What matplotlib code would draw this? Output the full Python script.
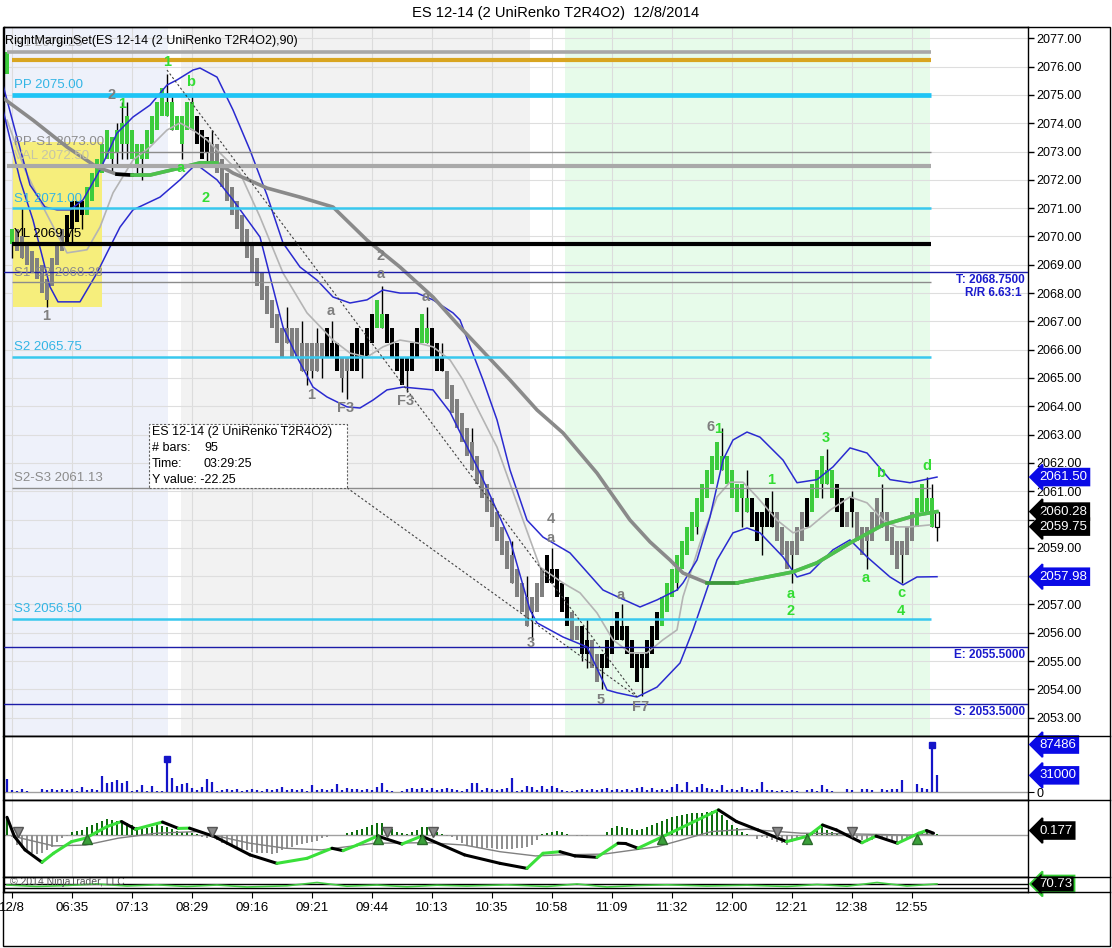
"""ES 12-14 (2 UniRenko T2R4O2), 12/8/2014 - NinjaTrader style chart."""
import matplotlib
matplotlib.use("Agg")
import matplotlib.pyplot as plt
from matplotlib.patches import Rectangle
from matplotlib.lines import Line2D

plt.rcParams.update({"font.family": ["Liberation Sans", "DejaVu Sans"]})

W, H = 1112, 948
GREEN, GRAYBAR, NAVY, BLUE, CYAN = "#3ccc3c", "#808080", "#1c1ca8", "#0a0ae6", "#25c3f0"
LBL_G, LBL_S = "#33dd33", "#7f7f7f"

# ---------------- price bars (one entry per UniRenko bar) ----------------
body_lo = [
    2075.75, 2069.75, 2069.5, 2069.25, 2069.0, 2068.75, 2068.5, 2068.0, 2067.75, 2068.25,
    2069.0, 2069.5, 2069.75, 2070.25, 2070.5, 2070.75, 2070.75, 2071.25, 2071.75, 2072.25,
    2072.75, 2072.75, 2073.0, 2073.25, 2073.25, 2072.75, 2072.5, 2072.75, 2072.75, 2073.25,
    2073.75, 2074.25, 2074.25, 2073.75, 2073.75, 2073.25, 2073.75, 2073.75, 2073.25, 2072.75,
    2073.0, 2072.5, 2072.25, 2071.75, 2071.25, 2070.75, 2070.25, 2069.75, 2069.25, 2068.75,
    2068.25, 2067.75, 2067.25, 2066.75, 2066.25, 2065.75, 2066.25, 2065.75, 2065.75, 2065.25,
    2065.25, 2065.25, 2065.25, 2065.75, 2065.75, 2065.75, 2065.25, 2065.0, 2065.25, 2065.25,
    2065.25, 2065.75, 2065.75, 2066.25, 2066.75, 2066.75, 2066.25, 2065.75, 2065.25, 2064.75,
    2065.25, 2065.25, 2065.75, 2066.25, 2066.25, 2065.75, 2065.25, 2065.25, 2064.25, 2063.75,
    2063.25, 2062.75, 2062.25, 2061.75, 2061.25, 2060.75, 2060.25, 2059.75, 2059.25, 2058.75,
    2058.25, 2057.75, 2057.25, 2056.75, 2056.25, 2056.75, 2056.75, 2057.25, 2057.75, 2057.75,
    2057.25, 2056.75, 2056.25, 2055.75, 2055.75, 2055.25, 2055.25, 2054.75, 2054.25, 2054.75,
    2054.75, 2055.25, 2055.75, 2055.75, 2055.25, 2054.75, 2054.25, 2054.75, 2054.75, 2055.25,
    2055.75, 2056.25, 2056.75, 2057.25, 2057.75, 2058.25, 2058.75, 2059.25, 2059.75, 2060.25,
    2060.75, 2061.25, 2061.75, 2061.75, 2061.25, 2060.75, 2060.25, 2060.75, 2060.25, 2059.75,
    2059.25, 2059.75, 2059.75, 2059.75, 2059.25, 2058.75, 2058.25, 2058.75, 2058.75, 2059.25,
    2059.75, 2060.25, 2060.75, 2061.25, 2061.25, 2060.75, 2060.25, 2059.75, 2059.75, 2060.25,
    2059.25, 2058.75, 2059.25, 2059.25, 2059.75, 2059.75, 2059.25, 2058.75, 2058.25, 2058.75,
    2058.75, 2059.25, 2059.75, 2060.25, 2060.25, 2059.75, 2059.75,
]
body_hi = [
    2076.5, 2070.25, 2070.25, 2070.0, 2069.75, 2069.5, 2069.25, 2069.0, 2068.5, 2069.25,
    2069.75, 2070.25, 2070.75, 2071.25, 2071.25, 2071.25, 2071.75, 2072.25, 2072.75, 2073.25,
    2073.75, 2073.5, 2073.75, 2074.0, 2074.25, 2073.75, 2073.25, 2073.25, 2073.75, 2074.25,
    2074.75, 2075.25, 2074.75, 2074.75, 2074.25, 2074.25, 2074.75, 2074.75, 2074.25, 2073.75,
    2073.5, 2073.25, 2073.25, 2072.75, 2072.25, 2071.75, 2071.25, 2070.75, 2070.25, 2069.75,
    2069.25, 2068.75, 2068.25, 2067.75, 2067.25, 2066.75, 2066.75, 2066.75, 2066.75, 2066.25,
    2066.25, 2066.25, 2066.25, 2066.25, 2066.75, 2066.25, 2066.25, 2065.75, 2065.75, 2066.25,
    2066.75, 2066.25, 2066.75, 2067.25, 2067.75, 2067.25, 2067.25, 2066.75, 2066.25, 2065.75,
    2065.75, 2066.25, 2066.75, 2067.25, 2066.75, 2066.75, 2066.25, 2065.75, 2065.25, 2064.75,
    2064.25, 2063.75, 2063.25, 2062.75, 2062.25, 2061.75, 2061.25, 2060.75, 2060.25, 2059.75,
    2059.25, 2058.75, 2058.25, 2057.75, 2057.25, 2057.25, 2057.75, 2058.25, 2058.75, 2058.25,
    2058.25, 2057.75, 2057.25, 2056.75, 2056.25, 2056.25, 2055.75, 2055.75, 2055.25, 2055.25,
    2055.75, 2056.25, 2056.75, 2056.25, 2056.25, 2055.75, 2055.25, 2055.25, 2055.75, 2056.25,
    2056.75, 2057.25, 2057.75, 2058.25, 2058.75, 2059.25, 2059.75, 2060.25, 2060.75, 2061.25,
    2061.75, 2062.25, 2062.75, 2062.25, 2062.25, 2061.75, 2061.25, 2061.25, 2060.75, 2060.75,
    2060.25, 2060.25, 2060.75, 2060.25, 2060.25, 2059.75, 2059.25, 2059.25, 2059.75, 2060.25,
    2060.75, 2061.25, 2061.75, 2062.25, 2061.75, 2061.75, 2061.25, 2060.75, 2060.25, 2060.75,
    2060.25, 2059.75, 2059.75, 2060.25, 2060.75, 2060.25, 2060.25, 2059.75, 2059.25, 2059.25,
    2059.75, 2060.25, 2060.75, 2061.25, 2060.75, 2060.75, 2060.25,
]
# g = green, s = gray, k = black, w = hollow (last, still forming)
bar_col = ("gg" "ssssssssss" "kkkk" "gggggggggggggggggggggg" "kkk"
           "sssssssssssssssssssssss" "kkk" "ss" "kkkkk" "gg" "kkkkkkk" "gg" "kkk"
           "ssssssssssssssssssss" "kkkkk" "ss" "kk" "ss" "kkkkkkkkkkkk"
           "gggggggggggggggggg" "kkkkk" "ssssss" "k" "ggggg" "kk" "s" "k"
           "ssssssssssss" "gggg" "w")
# bars whose wicks stick out of the body
wick_i = [1, 3, 8, 13, 15, 21, 22, 23, 24, 26, 27, 32, 33, 35, 37, 40, 41, 56, 59, 60,
          61, 62, 63, 65, 67, 68, 71, 75, 80, 84, 87, 93, 101, 104, 105, 109, 115, 116,
          119, 123, 127, 134, 138, 143, 147, 148, 151, 153, 157, 163, 164, 169, 172,
          175, 179, 184, 185, 186]
wick_hi = [2070.25, 2071.0, 2068.5, 2071.25, 2071.25, 2073.5, 2074.0, 2074.75, 2074.75,
           2073.25, 2073.25, 2075.75, 2075.0, 2074.25, 2075.0, 2073.5, 2073.75, 2067.5,
           2067.0, 2066.25, 2066.25, 2066.75, 2066.25, 2067.0, 2065.75, 2065.75, 2066.25,
           2068.25, 2065.75, 2067.5, 2066.25, 2063.25, 2059.25, 2058.0, 2057.25, 2059.0,
           2056.25, 2056.5, 2055.25, 2057.0, 2055.25, 2058.75, 2060.75, 2063.25, 2061.25,
           2061.75, 2060.25, 2061.0, 2059.25, 2062.25, 2062.5, 2061.0, 2059.75, 2061.25,
           2059.25, 2061.5, 2061.25, 2060.25]
wick_lo = [2069.25, 2069.25, 2067.5, 2069.75, 2070.25, 2072.25, 2072.5, 2072.75, 2072.75,
           2072.25, 2072.0, 2074.25, 2073.75, 2072.75, 2073.75, 2072.5, 2072.5, 2066.25,
           2065.25, 2064.75, 2065.0, 2065.25, 2065.0, 2065.75, 2064.5, 2064.25, 2065.0,
           2066.75, 2064.5, 2066.25, 2065.25, 2061.75, 2057.75, 2056.25, 2055.75, 2057.75,
           2055.0, 2054.75, 2054.0, 2055.75, 2053.75, 2057.5, 2059.5, 2061.75, 2059.75,
           2060.25, 2058.75, 2059.75, 2057.75, 2060.75, 2061.25, 2059.75, 2058.25, 2059.75,
           2057.75, 2060.25, 2059.75, 2059.25]

# ---------------- indicator lines (bar index, value) ----------------
sma_i = [-0.8, 5.2, 12, 18, 22, 25, 28.6, 34.6, 38.6, 42, 45.2, 52, 58.6, 65.2, 72, 78.6,
         85.2, 90.6, 100.6, 106, 111.2, 118, 124.6, 128.6, 132.6, 135.2, 140, 146, 152,
         157.2, 162, 168.6, 175.2, 182, 186]
sma_v = [2074.89, 2074.11, 2073.16, 2072.45, 2072.2, 2072.17, 2072.17, 2072.42, 2072.6,
         2072.6, 2072.24, 2071.71, 2071.39, 2071.04, 2069.87, 2068.92, 2067.86, 2066.8,
         2064.93, 2063.87, 2063.06, 2061.64, 2059.98, 2059.21, 2058.57, 2058.11, 2057.76,
         2057.76, 2057.97, 2058.15, 2058.47, 2059.17, 2059.81, 2060.16, 2060.28]
up_i = [-0.8, 1.6, 4.6, 7.6, 10, 12.6, 15.2, 18.6, 22, 25.2, 28.6, 32, 34, 37.2, 38.6, 42,
        45.2, 48.6, 52, 55.2, 58.6, 62, 65.2, 68.6, 72, 75.2, 78.6, 82, 85.2, 89.2, 90.6,
        95.2, 98, 100.6, 104, 107.2, 112.6, 119.2, 122.6, 126.6, 130, 134, 135.2, 138,
        140.6, 143.2, 145.2, 148, 150.6, 155.2, 158, 162, 165.2, 168.6, 172, 176.6, 180.6, 186]
up_v = [2075.35, 2073.76, 2071.82, 2071.04, 2070.94, 2070.94, 2071.29, 2072.35, 2073.65,
        2074.22, 2074.64, 2075.35, 2075.53, 2075.88, 2075.95, 2075.63, 2074.47, 2073.05,
        2071.46, 2069.77, 2068.92, 2068.46, 2067.86, 2067.65, 2067.76, 2068.11, 2068.0,
        2068.0, 2067.76, 2067.3, 2067.05, 2064.93, 2063.52, 2061.75, 2059.98, 2059.38,
        2058.82, 2057.51, 2057.23, 2056.91, 2057.16, 2057.51, 2057.76, 2058.57, 2060.09,
        2062.1, 2062.81, 2063.09, 2062.91, 2062.1, 2061.3, 2061.41, 2061.86, 2062.53,
        2062.35, 2061.41, 2061.3, 2061.5]
lo_i = [-0.8, 2.6, 5.2, 8.6, 10.2, 14.6, 18, 20, 22.6, 25.2, 30.6, 34.6, 37.2, 38.6, 42,
        45.2, 50.6, 55.2, 58, 61.2, 64, 68, 70.6, 73.2, 76, 79.2, 85.2, 88.6, 94.6, 100.6,
        104.6, 106, 111.2, 116, 120, 122, 126, 130, 134.6, 137.2, 142, 145.2, 148, 150.6,
        155.2, 158, 160.6, 165.2, 168.6, 172, 176.6, 179.2, 182, 186]
lo_v = [2074.47, 2072.0, 2070.58, 2068.22, 2067.69, 2067.69, 2068.71, 2069.42, 2070.33,
        2070.94, 2071.39, 2072.0, 2072.45, 2072.45, 2072.0, 2071.29, 2069.98, 2066.8,
        2065.74, 2064.68, 2064.33, 2063.98, 2063.94, 2064.22, 2064.58, 2064.68, 2064.58,
        2063.8, 2061.65, 2059.28, 2056.81, 2056.35, 2055.85, 2055.5, 2053.98, 2053.88,
        2053.73, 2054.08, 2054.93, 2056.1, 2058.57, 2059.53, 2059.7, 2059.53, 2058.68,
        2057.97, 2058.11, 2058.93, 2059.28, 2058.68, 2057.97, 2057.69, 2057.97, 2057.98]
fast_i = [0, 3.6, 7.2, 12, 16, 18.6, 21.2, 25.2, 28.6, 32, 34.6, 37.2, 40, 42.6, 46.6, 50.6,
          55.2, 60, 65.2, 68.6, 72, 75.2, 78.6, 82, 85.2, 88.6, 91.2, 98, 103.2, 106.6,
          111.2, 114.6, 118, 121.2, 124.6, 128, 131.2, 134, 135.2, 138.6, 142, 144.6, 147.2,
          150, 154, 157.2, 160.6, 164.6, 168.6, 172, 175.2, 178, 180.6, 184.6]
fast_v = [2074.11, 2072.35, 2071.04, 2069.42, 2069.53, 2070.33, 2071.54, 2072.7, 2073.16,
          2073.76, 2074.01, 2073.76, 2073.41, 2072.95, 2072.24, 2070.69, 2068.71, 2067.3,
          2066.34, 2065.88, 2065.74, 2066.1, 2066.34, 2066.24, 2066.1, 2065.64, 2064.93,
          2062.56, 2059.98, 2058.32, 2057.76, 2057.41, 2056.7, 2055.75, 2055.29, 2055.29,
          2055.75, 2056.1, 2057.27, 2059.17, 2060.8, 2061.32, 2061.32, 2060.8, 2059.98,
          2059.53, 2059.74, 2060.33, 2060.8, 2060.59, 2059.98, 2059.74, 2059.74, 2059.81]
# dotted trend lines: (start bar, start price, end bar, end price)
trend_a = (32, 2075.88, 126, 2053.74)
trend_b = (68, 2061.12, 126, 2053.74)

# ---------------- pivot / level lines ----------------
lvl_price = [2076.5, 2076.25, 2075.0, 2073.0, 2072.5, 2071.0, 2069.75, 2068.375,
             2065.75, 2061.125, 2056.5]
lvl_text = ["R1 2076.25", None, "PP 2075.00", "PP-S1 2073.00", "VAL 2072.50",
            "S1 2071.00", "YL 2069.75", "S1-S2 2068.38", "S2 2065.75", "S2-S3 2061.13",
            "S3 2056.50"]
trade_price = [2068.75, 2055.5, 2053.5]
trade_text = ["T: 2068.7500", "E: 2055.5000", "S: 2053.5000"]

# ---------------- swing labels ----------------
gray_lbl = ["1", "2", "2", "a", "a", "a", "1", "F3", "F3", "4", "a", "3", "5", "F7", "a", "6"]
gray_i = [7.8, 21, 74.8, 74.8, 64.8, 83.8, 60.8, 67.8, 79.8, 108.8, 108.8, 104.8, 118.8,
          126.8, 122.8, 140.8]
gray_p = [2067.19, 2075.0, 2069.31, 2068.67, 2067.37, 2067.87, 2064.4, 2063.94, 2064.19,
          2060.02, 2059.35, 2055.64, 2053.63, 2053.38, 2057.33, 2063.28]
green_lbl = ["1", "b", "1", "a", "2", "1", "1", "3", "b", "d", "a", "2", "a", "c", "4"]
green_i = [32, 36.8, 23, 34.8, 39.8, 142.2, 152.8, 163.8, 174.8, 184, 156.8, 156.8,
           171.8, 178.8, 178.8]
green_p = [2076.16, 2075.46, 2074.68, 2072.42, 2071.36, 2063.2, 2061.4, 2062.88, 2061.65,
           2061.89, 2057.37, 2056.77, 2057.94, 2057.4, 2056.77]

# ---------------- volume ----------------
volume = [
    24000, 4300, 3100, 5500, 3100, 0, 0, 5500, 4300, 5500,
    4300, 5500, 4300, 5500, 3100, 9200, 4300, 5500, 4300, 30200,
    16600, 19100, 21600, 16600, 20900, 3100, 4300, 13600, 3100, 11700,
    3100, 3100, 61600, 25900, 11700, 15400, 16600, 7400, 4300, 10500,
    24600, 18500, 3100, 4300, 5500, 4300, 5500, 3100, 4300, 5500,
    4300, 3100, 5500, 4300, 5500, 9200, 4300, 5500, 4300, 5500,
    3100, 13600, 4300, 5500, 4300, 5500, 14800, 4300, 7400, 5500,
    5500, 4300, 5500, 4300, 9200, 16600, 4300, 1800, 0, 3100,
    5500, 7400, 5500, 7400, 4300, 7400, 4300, 5500, 7400, 5500,
    4300, 3100, 5500, 16600, 16600, 4300, 7400, 5500, 4300, 5500,
    7400, 25900, 3100, 4300, 11700, 10500, 4300, 11700, 5500, 11700,
    7400, 4300, 3100, 3100, 4300, 5500, 4300, 5500, 4300, 5500,
    7400, 4300, 5500, 4300, 5500, 4300, 7400, 9200, 4300, 7400,
    4300, 6800, 4300, 9200, 15400, 4300, 17900, 4300, 9200, 15400,
    7400, 5500, 4300, 13600, 4300, 6800, 4300, 10500, 6800, 4300,
    5500, 19700, 4300, 4300, 3100, 4300, 3100, 4300, 3100, 0,
    4300, 5500, 3100, 13600, 5500, 3100, 0, 0, 6800, 4300,
    0, 6800, 5500, 4300, 0, 5500, 4300, 5500, 6800, 22800,
    0, 0, 15400, 7400, 6200, 87486, 31000,
]
vol_dot_i = [32, 185]

# ---------------- MACD-style oscillator ----------------
hist = [
    0.68, -0.05, -0.37, -0.49, -0.62, -0.68, -0.71, -0.68, -0.55, -0.43,
    -0.24, -0.11, -0.03, 0.14, 0.16, 0.20, 0.33, 0.39, 0.48, 0.55,
    0.60, 0.58, 0.55, 0.55, 0.48, 0.39, 0.33, 0.26, 0.26, 0.33,
    0.39, 0.35, 0.33, 0.23, 0.18, 0.14, 0.14, 0.08, 0.05, -0.08,
    -0.11, -0.05, -0.18, -0.28, -0.37, -0.43, -0.49, -0.53, -0.55, -0.62,
    -0.68, -0.68, -0.68, -0.71, -0.68, -0.55, -0.49, -0.43, -0.37, -0.33,
    -0.30, -0.24, -0.20, -0.11, -0.05, 0.03, 0.02, 0.0, 0.08, 0.14,
    0.20, 0.23, 0.30, 0.39, 0.48, 0.48, 0.33, 0.23, 0.14, 0.08,
    0.05, 0.14, 0.20, 0.33, 0.30, 0.20, 0.14, 0.05, -0.03, -0.08,
    -0.18, -0.28, -0.37, -0.43, -0.45, -0.49, -0.49, -0.49, -0.50, -0.50,
    -0.50, -0.50, -0.49, -0.49, -0.43, -0.37, -0.18, 0.05, 0.10, 0.14,
    0.16, 0.14, 0.05, 0.02, -0.02, -0.03, -0.02, 0.0, 0.0, 0.02,
    0.14, 0.26, 0.35, 0.33, 0.26, 0.23, 0.20, 0.25, 0.30, 0.39,
    0.45, 0.55, 0.60, 0.68, 0.73, 0.77, 0.81, 0.83, 0.86, 0.86,
    0.88, 0.92, 0.92, 0.77, 0.58, 0.39, 0.26, 0.14, 0.05, 0.0,
    -0.15, -0.05, -0.11, -0.18, -0.24, -0.30, -0.37, -0.24, -0.11, 0.01,
    0.08, 0.14, 0.20, 0.30, 0.20, 0.14, 0.08, 0.01, -0.08, -0.05,
    -0.11, -0.18, -0.24, -0.18, -0.11, -0.11, -0.11, -0.18, -0.24, -0.18,
    -0.15, -0.08, 0.0, 0.08, 0.14, 0.08, 0.05,
]
macd_i = [0, 1.5, 3.6, 7, 9.3, 12.9, 15.7, 20, 22.9, 25.7, 31.1, 34.3, 36.5, 41.5, 48.6, 54,
          60, 65, 67.2, 70, 74.1, 79, 82.9, 91.5, 98.6, 104, 107.2, 110.6, 113.6, 118, 122.2,
          123.7, 126.2, 130.8, 142.3, 145.9, 150.2, 155.9, 160.2, 163.1, 165.9, 171, 173.8,
          178.1, 182.4, 183.9, 185.3]
macd_v = [0.68, -0.05, -0.55, -1.02, -0.68, -0.24, -0.11, 0.33, 0.52, 0.23, 0.50, 0.26, 0.27,
          -0.05, -0.74, -1.06, -0.87, -0.49, -0.58, -0.37, -0.03, -0.33, -0.03, -0.74, -1.06,
          -1.25, -0.68, -0.62, -0.78, -0.83, -0.30, -0.31, -0.49, -0.08, 0.96, 0.52, 0.20,
          -0.24, -0.03, 0.39, 0.20, -0.28, -0.03, -0.30, 0.08, 0.18, 0.08]
sig_i = [1.5, 9.3, 15.7, 22.2, 30, 37.9, 48.6, 55.7, 62.9, 73.6, 84.3, 91.5, 98.6, 105.7,
         110.6, 119.4, 130.1, 140.9, 148, 158.8, 169.5, 180.3, 185.3]
sig_v = [-0.05, -0.40, -0.37, -0.11, 0.08, 0.14, -0.30, -0.49, -0.55, -0.30, -0.28, -0.37,
         -0.62, -0.78, -0.74, -0.71, -0.43, 0.14, 0.23, 0.08, 0.05, 0.01, 0.05]
tri_dn_i = [2.2, 40.9, 76, 85.2, 154, 169]
tri_up_i = [16, 74.1, 82.9, 131, 160, 182]

# ---------------- bottom strip oscillator ----------------
rsi_i = [0, 6, 12, 18, 24, 30, 36, 42, 48, 56, 62, 68, 74, 80, 86, 92, 100, 108, 114, 120,
         126, 132, 140, 148, 156, 162, 168, 174, 180, 186]
rsi_v = [60, 45, 55, 70, 50, 62, 45, 60, 40, 52, 85, 48, 60, 42, 58, 50, 62, 45, 70, 40,
         55, 62, 50, 58, 45, 65, 48, 85, 50, 70.73]

time_labels = ["12/8", "06:35", "07:13", "08:29", "09:16", "09:21", "09:44", "10:13",
               "10:35", "10:58", "11:09", "11:32", "12:00", "12:21", "12:38", "12:55"]
time_pos = [1, 13, 25, 37, 49, 61, 73, 85, 97, 109, 121, 133, 145, 157, 169, 181]

# ======================================================================
fig = plt.figure(figsize=(W / 100, H / 100), dpi=100)
fig.patch.set_facecolor("white")


def panel(top, bottom, left=4, right=1028):
    return fig.add_axes([left / W, 1 - bottom / H, (right - left) / W, (bottom - top) / H])


ax = panel(27, 735.5)
axv = panel(735.5, 800)
axo = panel(800, 877)
axr = panel(877, 892)
XL = (-0.6, 204.2)

for a in (ax, axv, axo, axr):
    a.set_xlim(*XL)
    a.set_xticks(time_pos)
    a.tick_params(axis="x", length=0, labelbottom=False)
    a.tick_params(axis="y", left=False, labelleft=False)
    for s in a.spines.values():
        s.set_color("black")
        s.set_linewidth(1)
for a in (ax, axv, axo):
    a.set_axisbelow(True)
    a.grid(True, axis="x", color="#dcdcdc", lw=0.8)

# ---- main price panel ----
ax.set_ylim(2052.37, 2077.4)
ax.set_yticks(range(2053, 2078))
ax.set_yticklabels([f"{v:.2f}" for v in range(2053, 2078)])
ax.yaxis.tick_right()
ax.tick_params(axis="y", right=True, labelright=True, length=4, width=1,
               labelsize=9, pad=2)
ax.grid(True, axis="y", color="#dedede", lw=0.8)

ax.axvspan(-0.6, 32.2, color="#eef1fa", zorder=0.1, lw=0)
ax.axvspan(34.8, 104.6, color="#f2f2f2", zorder=0.1, lw=0)
ax.axvspan(111.6, 184.6, color="#e7fbea", zorder=0.1, lw=0)
ax.add_patch(Rectangle((1.1, 2067.5), 17.8, 5.85, fc="#f6ee7c", ec="none", zorder=0.6))

# level lines
lvl_style = [("#a8a8a8", 2.6, 0.0), ("#d9a520", 3.0, 1.0), ("#1ec4f5", 3.4, 1.0),
             ("#8c8c8c", 1.0, 18.6), ("#a9a9a9", 3.0, 0.0), ("#38c8ee", 1.8, 1.0),
             ("black", 3.0, 1.0), ("#8c8c8c", 1.0, 1.0), ("#38c8ee", 1.8, 1.0),
             ("#8c8c8c", 1.0, 1.0), ("#38c8ee", 1.8, 1.0)]
lvl_txt_col = ["#b0b0b0", None, "#33b5e5", "#8c8c8c", "#c4c4a8", "#33b5e5", "black",
               "#8c8c8c", "#33b5e5", "#8c8c8c", "#33b5e5"]
for p, txt, (c, lw, x0), tc in zip(lvl_price, lvl_text, lvl_style, lvl_txt_col):
    ax.plot([x0, 184.8], [p, p], color=c, lw=lw, solid_capstyle="butt", zorder=3.2)
    if txt:
        ax.text(1.4, p + 0.34, txt, color=tc, fontsize=9.5, ha="left", va="center", zorder=5)
for p, txt in zip(trade_price, trade_text):
    ax.axhline(p, color=NAVY, lw=1, zorder=3.3)
    ax.text(203.6, p - 0.3, txt, color="#1a1acd", fontsize=8.5, fontweight="bold",
            ha="right", va="center", zorder=5)
ax.text(203.0, 2068.0, "R/R 6.63:1", color="#1a1acd", fontsize=8.5, fontweight="bold",
        ha="right", va="center", zorder=5)

# bars
idx = list(range(len(body_lo)))
face = [{"g": GREEN, "s": GRAYBAR, "k": "black", "w": "white"}[c] for c in bar_col]
edge = ["black" if c == "w" else "none" for c in bar_col]
ax.vlines(wick_i, wick_lo, wick_hi, color="black", lw=1, zorder=2)
ax.bar(idx, [h - l for h, l in zip(body_hi, body_lo)], bottom=body_lo, width=0.64,
       color=face, edgecolor=edge, linewidth=[0.9 if c == "w" else 0 for c in bar_col],
       zorder=2.2)

# indicator lines
ax.plot(fast_i, fast_v, color="#b4b4b4", lw=1.2, zorder=3)
ax.plot(up_i, up_v, color="#2a2ad0", lw=1.1, zorder=3)
ax.plot(lo_i, lo_v, color="#2a2ad0", lw=1.1, zorder=3)
ax.plot(sma_i, sma_v, color="#8a8a8a", lw=2.6, zorder=3.1, solid_capstyle="round")
for a0, a1, c in [(22, 25, "black"), (25, 42, "#4cc24c"), (140, 146, "#3a9a3a"),
                  (146, 186, "#4cc24c")]:
    seg = [(i, v) for i, v in zip(sma_i, sma_v) if a0 <= i <= a1]
    ax.plot([s[0] for s in seg], [s[1] for s in seg], color=c, lw=2.6, zorder=3.15)
for x0, y0, x1, y1 in (trend_a, trend_b):
    ax.plot([x0, x1], [y0, y1], color="#404040", lw=0.8, ls=(0, (2, 2)), zorder=3.4)

# swing labels
for t, i, p in zip(gray_lbl, gray_i, gray_p):
    ax.text(i, p, t, color=LBL_S, fontsize=10.5, fontweight="bold", ha="center",
            va="center", zorder=5)
for t, i, p in zip(green_lbl, green_i, green_p):
    ax.text(i, p, t, color=LBL_G, fontsize=10.5, fontweight="bold", ha="center",
            va="center", zorder=5)

# measurement tooltip
ax.add_patch(Rectangle((28.4, 2061.12), 39.6, 2.25, fc="white", ec="#606060", lw=0.8,
                       ls=(0, (2, 1.5)), zorder=4))
tip_rows = [("ES 12-14 (2 UniRenko T2R4O2)", ""), ("# bars:", "95"),
            ("Time:", "03:29:25"), ("Y value: -22.25", "")]
for k, (lab, val) in enumerate(tip_rows):
    yy = 2063.09 - 0.565 * k
    ax.text(29.0, yy, lab, fontsize=9, ha="left", va="center", zorder=4.5)
    if val:
        ax.text(39.4, yy, val, fontsize=9, ha="left", va="center", zorder=4.5)


def tag(a, v, s, fc, ec=None):
    a.text(1.0 + 11 / 1024, v, s, transform=a.get_yaxis_transform(), ha="left",
           va="center", fontsize=9.5, color="white", clip_on=False, zorder=10,
           bbox=dict(boxstyle="larrow,pad=0.18", fc=fc, ec=ec or fc, lw=1.3))


tag(ax, 2061.5, "2061.50", BLUE)
tag(ax, 2060.28, "2060.28", "black")
tag(ax, 2059.75, "2059.75", "black")
tag(ax, 2057.98, "2057.98", BLUE)

# ---- volume ----
axv.set_ylim(-14240, 104100)
axv.axhline(0, color="#a0a0a0", lw=1, zorder=1)
axv.vlines(idx, 0, volume, color="#1414c8", lw=1.6, zorder=2)
axv.plot(vol_dot_i, [volume[i] for i in vol_dot_i], "s", color="#1414c8", ms=4.5, zorder=3)
axv.set_yticks([0])
axv.set_yticklabels(["0"])
axv.yaxis.tick_right()
axv.tick_params(axis="y", right=True, labelright=True, length=4, labelsize=9, pad=2)
tag(axv, 87486, "87486", BLUE)
tag(axv, 31000, "31000", BLUE)

# ---- oscillator ----
axo.set_ylim(-1.576, 1.334)
axo.axhline(0, color="#a0a0a0", lw=1, zorder=1)
axo.bar(idx, hist, width=0.55, color=["#0e6e0e" if h >= 0 else "#909090" for h in hist],
        zorder=2)
axo.plot(sig_i, sig_v, color="#808080", lw=1, zorder=3)
for k in range(len(macd_i) - 1):
    c = "#3ae03a" if macd_v[k + 1] > macd_v[k] else "black"
    axo.plot(macd_i[k:k + 2], macd_v[k:k + 2], color=c, lw=2.2, zorder=4,
             solid_capstyle="round")
axo.plot(tri_dn_i, [0.12] * len(tri_dn_i), "v", color="#8a8a8a", mec="#555555", ms=7,
         zorder=5)
axo.plot(tri_up_i, [-0.13] * len(tri_up_i), "^", color="#3aa03a", mec="#2a6a2a", ms=7,
         zorder=5)
axo.set_yticks([])
tag(axo, macd_v[-1] + 0.1, "0.177", "black")

# ---- bottom strip ----
axr.set_ylim(-10, 140)
axr.axhline(70, color="black", lw=1)
axr.axhline(30, color="black", lw=1)
axr.plot(rsi_i, rsi_v, color="#44cc44", lw=1.2)
axr.set_yticks([])
axr.text(0.5, 93, "\u00a9 2014 NinjaTrader, LLC", fontsize=7.5, color="#555555",
         ha="left", va="center")
tag(axr, 70.73, "70.73", "black", "#33cc33")
axr.set_xticklabels(time_labels)
axr.tick_params(axis="x", length=4, labelbottom=True, labelsize=9.5, pad=3)

# ---- frame, separators, titles ----
fig.add_artist(Rectangle((3 / W, 1 - 946 / H), 1107 / W, 919 / H, fill=False,
                         ec="black", lw=1, transform=fig.transFigure))
for yy in (735.5, 800, 877, 892):
    fig.add_artist(Line2D([3 / W, 1110 / W], [1 - yy / H] * 2, color="black", lw=1))
fig.text(556 / W, 1 - 13 / H, "ES 12-14 (2 UniRenko T2R4O2)  12/8/2014", fontsize=10.6,
         ha="center", va="center")
fig.text(5 / W, 1 - 41 / H, "RightMarginSet(ES 12-14 (2 UniRenko T2R4O2),90)", fontsize=9,
         ha="left", va="center", zorder=10)

fig.savefig("out.png", dpi=100, facecolor="white")
